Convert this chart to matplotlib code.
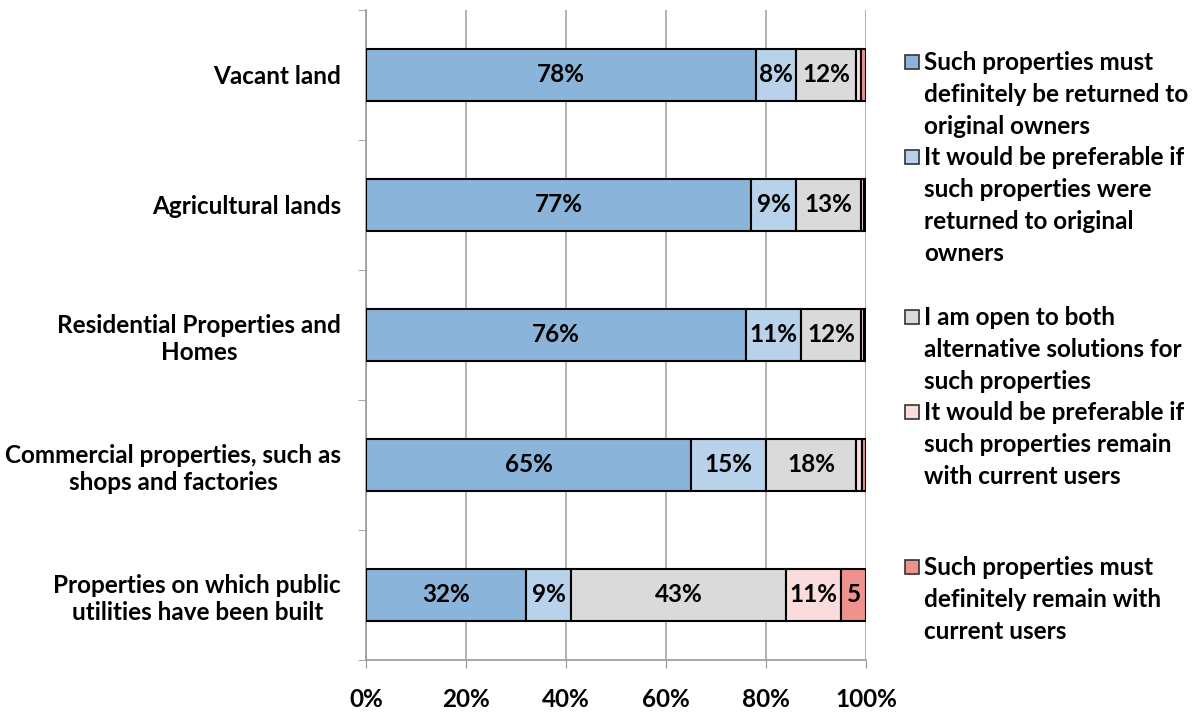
import matplotlib.pyplot as plt
import numpy as np

categories = [
    "Vacant land",
    "Agricultural lands",
    "Residential Properties and\nHomes",
    "Commercial properties, such as\nshops and factories",
    "Properties on which public\nutilities have been built",
]
must_return = [78, 77, 76, 65, 32]
prefer_return = [8, 9, 11, 15, 9]
open_both = [12, 13, 12, 18, 43]
prefer_remain = [1, 0.6, 0.6, 1.2, 11]
must_remain = [1, 0.4, 0.4, 0.8, 5]

series = [must_return, prefer_return, open_both, prefer_remain, must_remain]
series_names = [
    "Such properties must\ndefinitely be returned to\noriginal owners",
    "It would be preferable if\nsuch properties were\nreturned to original\nowners",
    "I am open to both\nalternative solutions for\nsuch properties",
    "It would be preferable if\nsuch properties remain\nwith current users",
    "Such properties must\ndefinitely remain with\ncurrent users",
]
colors = ["#8AB4DA", "#B7D2EA", "#DADADA", "#FADCDC", "#EF928E"]
xticks = [0, 20, 40, 60, 80, 100]

plt.rcParams['font.family'] = ['Lato', 'DejaVu Sans']
plt.rcParams['font.weight'] = 'bold'
FS = 17.5

fig = plt.figure(figsize=(11.97, 7.13), dpi=100)
ax = fig.add_axes([366 / 1197, 53 / 713, 500 / 1197, 650 / 713])

y = np.arange(len(categories))
left = np.zeros(len(categories))
for vals, col in zip(series, colors):
    vals = np.array(vals, dtype=float)
    bars = ax.barh(y, vals, left=left, height=0.4, color=col,
                   edgecolor='black', linewidth=1.5, zorder=3)
    for b, v in zip(bars, vals):
        if v >= 5:
            txt = f"{v:.0f}%" if b.get_width() > 6 else f"{v:.0f}"
            ax.text(b.get_x() + b.get_width() / 2, b.get_y() + b.get_height() / 2,
                    txt, ha='center', va='center', fontsize=FS,
                    fontweight='bold', zorder=4)
    left += vals

ax.set_xlim(0, 100)
ax.set_ylim(len(categories) - 0.5, -0.5)
ax.set_xticks(xticks)
ax.set_xticklabels([f"{t}%" for t in xticks], fontsize=FS, fontweight='bold')
ax.tick_params(axis='x', length=6, color='#999999', pad=14)
ax.set_yticks(y)
ax.set_yticklabels(categories, fontsize=FS, fontweight='bold',
                   multialignment='center')
ax.tick_params(axis='y', which='major', length=0, pad=18)
ax.set_yticks(np.arange(-0.5, len(categories)), minor=True)
ax.tick_params(axis='y', which='minor', length=6, color='#999999')

ax.grid(axis='x', color='#A6A6A6', linewidth=1.2, zorder=0)
ax.set_axisbelow(True)
for s in ['top', 'right']:
    ax.spines[s].set_visible(False)
for s in ['left', 'bottom']:
    ax.spines[s].set_color('#999999')
    ax.spines[s].set_linewidth(1.2)

# legend drawn by hand to match the uneven spacing of the original
legend_tops = [62, 157, 317, 412, 567]
for name, col, top in zip(series_names, colors, legend_tops):
    yf = 1 - top / 713
    fig.patches.append(plt.Rectangle((905 / 1197, yf - 7 / 713), 14 / 1197, 14 / 713,
                                     facecolor=col, edgecolor='#333333', linewidth=1.2,
                                     transform=fig.transFigure, figure=fig))
    fig.text(924 / 1197, yf + 11 / 713, name, ha='left', va='top', fontsize=FS,
             fontweight='bold', linespacing=1.47)

fig.savefig("out.png", dpi=100)
